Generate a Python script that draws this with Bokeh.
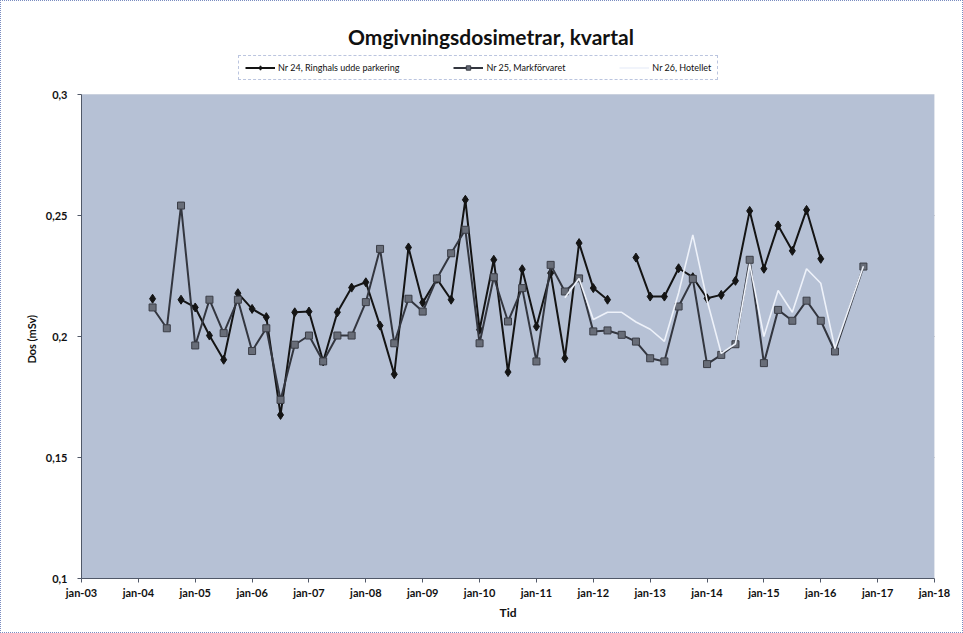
import pandas as pd
from bokeh.plotting import figure
from bokeh.models import Range1d, FixedTicker, Legend, LegendItem, Label, BoxAnnotation, Title
from bokeh.embed import file_html
from bokeh.resources import INLINE

NaN = float("nan")

title_text = "Omgivningsdosimetrar, kvartal"
name24 = "Nr 24, Ringhals udde parkering"
name25 = "Nr 25, Markförvaret"
name26 = "Nr 26, Hotellet"
y_title = "Dos (mSv)"
x_title = "Tid"

# quarterly measurement dates (apr-04 ... okt-16)
quarters = [d.strftime("%Y-%m-%d") for d in pd.date_range("2004-04-01", "2016-10-01", freq="QS")]

# Nr 24 (NaN = gap in the line)
nr24 = [0.2156, NaN, 0.2152, 0.212, 0.2004, 0.1904, 0.2179, 0.2114,
        0.208, 0.1676, 0.21, 0.2103, 0.1897, 0.21, 0.2202, 0.2224,
        0.2045, 0.1844, 0.2368, 0.214, 0.2238, 0.2152, 0.2565, 0.2028,
        0.2317, 0.1853, 0.2278, 0.2041, 0.2262, 0.191, 0.2386, 0.22,
        0.2152, NaN, 0.2326, 0.2165, 0.2165, 0.2282, 0.2245, 0.2158,
        0.2172, 0.223, 0.2519, 0.228, 0.2459, 0.2354, 0.2523, 0.2321,
        None, None, None]

# Nr 25 (None = no value, line connects over it)
nr25 = [0.212, 0.2034, 0.2541, 0.1963, 0.2152, 0.2014, 0.2152, 0.194,
        0.2034, 0.1738, 0.1966, 0.2004, 0.1897, 0.2004, 0.2004, 0.2142,
        0.2362, 0.1972, 0.2156, 0.2103, 0.224, 0.2344, 0.2441, 0.1972,
        0.2245, 0.2062, 0.22, 0.1897, 0.2296, 0.2186, 0.224, 0.2021,
        0.2025, 0.2007, 0.1979, 0.191, 0.1897, 0.2124, 0.2238, 0.1886,
        0.1924, 0.1968, 0.2317, 0.189, 0.211, 0.2065, 0.2148, 0.2065,
        0.1938, None, 0.2289]

# Nr 26
nr26 = [None] * 29 + [0.216, 0.224, 0.207, 0.210, 0.210, 0.206, 0.203, 0.198,
                      0.218, 0.242, 0.215, 0.193, 0.197, 0.230, 0.200, 0.219,
                      0.210, 0.228, 0.222, 0.195, None, 0.229]

x_ticks = list(range(2003, 2019))
x_tick_labels = ["jan-03", "jan-04", "jan-05", "jan-06", "jan-07", "jan-08", "jan-09", "jan-10",
                 "jan-11", "jan-12", "jan-13", "jan-14", "jan-15", "jan-16", "jan-17", "jan-18"]
y_ticks = [0.1, 0.15, 0.2, 0.25, 0.3]
y_tick_labels = ["0,1", "0,15", "0,2", "0,25", "0,3"]


def dec_year(s):
    t = pd.Timestamp(s)
    return t.year + (t.month - 1) / 12.0


def pts(vals):
    xs, ys = [], []
    for q, v in zip(quarters, vals):
        if v is None:
            continue
        xs.append(dec_year(q))
        ys.append(v)
    return xs, ys


FONT = "Lato"
W, H = 963, 633
LEFT, RIGHT, TOP, BOTTOM = 80, 30, 0, 56
frame_h = H - TOP - BOTTOM            # 577 px
px_per_unit = 484 / (y_ticks[-1] - y_ticks[0])   # value axis 0,1..0,3 spans 484 px
y_top = y_ticks[0] + frame_h / px_per_unit       # headroom above 0,3 for title and legend

p = figure(width=W, height=H, output_backend="svg", toolbar_location=None,
           x_range=Range1d(x_ticks[0], x_ticks[-1]), y_range=Range1d(y_ticks[0], y_top),
           min_border_left=LEFT, min_border_right=RIGHT, min_border_top=TOP, min_border_bottom=BOTTOM)

p.background_fill_color = "white"
p.border_fill_color = "white"
p.outline_line_color = None
p.styles = {"border": "1px dotted #7a8cc0", "box-sizing": "border-box"}

# grey-blue plot area between 0,1 and 0,3
p.add_layout(BoxAnnotation(left=x_ticks[0], right=x_ticks[-1], bottom=y_ticks[0], top=y_ticks[-1],
                           fill_color="#b6c1d5", fill_alpha=1.0, line_color="#a4afc4",
                           line_width=1, level="underlay"))

p.xgrid.visible = False
p.ygrid.ticker = FixedTicker(ticks=y_ticks[1:-1])
p.ygrid.grid_line_color = "#4a4a4a"
p.ygrid.grid_line_width = 1

p.xaxis.ticker = FixedTicker(ticks=x_ticks)
p.xaxis.major_label_overrides = {t: l for t, l in zip(x_ticks, x_tick_labels)}
p.yaxis.ticker = FixedTicker(ticks=y_ticks)
p.yaxis.major_label_overrides = {t: l for t, l in zip(y_ticks, y_tick_labels)}
p.yaxis.bounds = (y_ticks[0], y_ticks[-1])

for ax in (p.xaxis[0], p.yaxis[0]):
    ax.major_label_text_font = FONT
    ax.major_label_text_font_size = "11px"
    ax.major_label_text_font_style = "bold"
    ax.major_label_text_color = "#111111"
    ax.axis_label_text_font = FONT
    ax.axis_label_text_font_size = "12px"
    ax.axis_label_text_font_style = "bold"
    ax.axis_label_text_color = "#111111"
    ax.minor_tick_line_color = None
    ax.major_tick_in = 0
    ax.major_tick_out = 4
    ax.axis_line_color = "#505868"
    ax.major_tick_line_color = "#505868"

p.xaxis.axis_label = x_title
p.xaxis.major_label_standoff = 3
p.xaxis.axis_label_standoff = 3
p.yaxis.major_label_standoff = 10

# y-axis title, centred on the 0,1..0,3 span (align left + offset from frame bottom)
p.add_layout(Title(text=y_title, align="left", offset=215, text_font=FONT,
                   text_font_size="11px", text_font_style="bold", text_color="#111111",
                   standoff=10), "left")

x24, y24 = pts(nr24)
x25, y25 = pts(nr25)
x26, y26 = pts(nr26)

l24 = p.line(x24, y24, line_color="#141414", line_width=2)
m24 = p.scatter(x24, y24, marker="diamond", size=9, fill_color="#141414", line_color="#141414")
l25 = p.line(x25, y25, line_color="#33363f", line_width=2)
m25 = p.scatter(x25, y25, marker="square", size=7, fill_color="#686d78", line_color="#3a3d46")
l26 = p.line(x26, y26, line_color="#eef2fa", line_width=1.6)

# chart title
p.add_layout(Label(x=2010.2, y=y_ticks[-1] + 58 / px_per_unit, text=title_text,
                   text_align="center", text_baseline="middle",
                   text_font=FONT, text_font_size="21px", text_font_style="bold", text_color="#111111"))

legend = Legend(items=[LegendItem(label=name24, renderers=[l24, m24]),
                       LegendItem(label=name25, renderers=[l25, m25]),
                       LegendItem(label=name26, renderers=[l26])],
                orientation="horizontal", location=(157, 498),
                border_line_color="#7a8cc0", border_line_dash="dotted", border_line_width=1,
                label_text_font=FONT, label_text_font_size="9px", label_text_color="#111111",
                glyph_width=30, glyph_height=11, label_height=11, label_standoff=3, spacing=54,
                padding=6, margin=0, background_fill_color="white")
p.add_layout(legend)

open("out.html", "w").write(file_html(p, INLINE))
